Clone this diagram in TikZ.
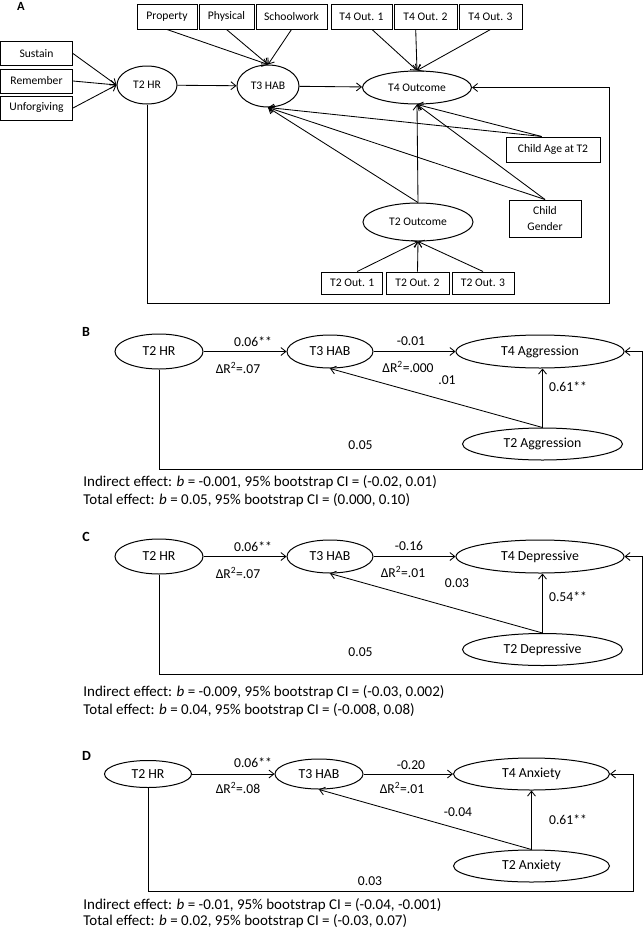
\documentclass[tikz,border=0pt]{standalone}
\usepackage{fontspec}
\setmainfont{Carlito}
\usetikzlibrary{shapes.geometric,arrows.meta}
\begin{document}
\begin{tikzpicture}[x=1pt, y=-1pt, line width=0.85pt,
    >={Straight Barb[length=5pt,width=8pt]},
    lat/.style={ellipse, draw, line width=1pt, inner sep=0pt},
    box/.style={rectangle, draw, line width=1pt, inner sep=0pt, minimum height=24pt},
    fa/.style={font=\fontsize{11.6}{13}\selectfont},
    fb/.style={font=\fontsize{13.8}{16}\selectfont},
    est/.style={inner sep=0pt, font=\fontsize{13.6}{16}\selectfont},
    eff/.style={anchor=west, inner sep=0pt, font=\fontsize{15}{18}\selectfont},
    plab/.style={inner sep=0pt, font=\bfseries\fontsize{14}{16}\selectfont}]
    \useasboundingbox (0,0) rectangle (644,932);
    \node[plab, font=\bfseries\fontsize{12.5}{14}\selectfont] (pA) at (21,6) {A};
    \node[box, fa, minimum width=72pt] (sus) at (36.5,53.5) {Sustain};
    \node[box, fa, minimum width=72pt] (rem) at (36.5,81) {Remember};
    \node[box, fa, minimum width=72pt] (unf) at (36.5,108) {Unforgiving};
    \node[lat, fa, minimum width=60pt, minimum height=38pt] (hr) at (147,85) {T2 HR};
    \node[lat, fa, minimum width=62pt, minimum height=42pt] (hab) at (268,86) {T3 HAB};
    \node[lat, fa, minimum width=109pt, minimum height=33pt] (t4o) at (417,87.5) {T4 Outcome};
    \node[lat, fa, minimum width=110pt, minimum height=38pt] (t2o) at (418,222) {T2 Outcome};
    \node[box, fa, minimum width=60pt, minimum height=25pt] (prp) at (167,16.5) {Property};
    \node[box, fa, minimum width=55pt, minimum height=25pt] (phy) at (226.5,16.5) {Physical};
    \node[box, fa, minimum width=71pt, minimum height=25pt] (sch) at (291.5,16.5) {Schoolwork};
    \node[box, fa, minimum width=61pt, minimum height=25pt] (o1) at (361.5,16.5) {T4 Out. 1};
    \node[box, fa, minimum width=63pt, minimum height=25pt] (o2) at (425.5,16.5) {T4 Out. 2};
    \node[box, fa, minimum width=63pt, minimum height=25pt] (o3) at (490.5,16.5) {T4 Out. 3};
    \node[box, fa, minimum width=94pt, minimum height=25pt] (age) at (553,149.5) {Child Age at T2};
    \node[box, font=\fontsize{11.6}{16.5}\selectfont, minimum width=72pt, minimum height=37pt, align=center] (gen) at (545,218.5) {Child\\Gender};
    \node[box, fa, minimum width=61pt, minimum height=22pt] (p1) at (352.3,283) {T2 Out. 1};
    \node[box, fa, minimum width=63pt, minimum height=22pt] (p2) at (417.5,283) {T2 Out. 2};
    \node[box, fa, minimum width=62pt, minimum height=22pt] (p3) at (483,283) {T2 Out. 3};
    \coordinate (ca) at (609,303);
    \foreach \from/\to in {sus.east/hr.west, rem.east/hr.west, unf.east/hr.west, hr/hab, hab/t4o, prp.south/hab.north, phy.south/hab.north, sch.south/hab.north, o1.-51/t4o.north, o2.-127/t4o.north, o3.south/t4o.north, age.131/hab.south, age.131/t4o.south, gen.north/hab.south, gen.north/t4o.south, t2o.north/hab.south, t2o.north/t4o.south, p1.67/t2o.south, p2.north/t2o.south, p3.north/t2o.south}
        \draw[->] (\from) -- (\to);
    \draw[->] (hr.south) |- (ca) |- (t4o.east);

    \node[plab] (pB) at (86,332) {B};
    \node[lat, fb, minimum width=88pt, minimum height=35pt] (bhr) at (159,351.5) {T2 HR};
    \node[lat, fb, minimum width=86pt, minimum height=33pt] (bhab) at (330,351.5) {T3 HAB};
    \node[lat, fb, minimum width=168pt, minimum height=33pt] (bt4) at (540,351.5) {T4 Aggression};
    \node[lat, fb, minimum width=160pt, minimum height=32pt] (bt2) at (542.5,444) {T2 Aggression};
    \node[est] (b1) at (253,341.7) {0.06**};
    \node[est] (b2) at (238,367.7) {ΔR\textsuperscript{2}=.07};
    \node[est] (b3) at (411,341) {-0.01};
    \node[est] (b4) at (408,366.7) {ΔR\textsuperscript{2}=.000};
    \node[est] (b5) at (447,380) {.01};
    \node[est] (b6) at (568,386.7) {0.61**};
    \node[est] (b7) at (360.5,445) {0.05};
    \coordinate (cb) at (642,469);
    \foreach \from/\to in {bhr/bhab, bhab/bt4, bt2.north/bhab.south}
        \draw[->] (\from) -- (\to);
    \draw[->] (bt2.north) -- (bt2.north |- bt4.south);
    \draw[->] (bhr.south) |- (cb) |- (bt4.east);
    \node[eff] (bi) at (83,482) {Indirect effect: \textit{b} = -0.001, 95\% bootstrap CI = (-0.02, 0.01)};
    \node[eff] (bt) at (83,500) {Total effect: \textit{b} = 0.05, 95\% bootstrap CI = (0.000, 0.10)};

    \node[plab] (pC) at (86,537) {C};
    \node[lat, fb, minimum width=88pt, minimum height=35pt] (chr) at (159,556.5) {T2 HR};
    \node[lat, fb, minimum width=86pt, minimum height=33pt] (chab) at (330,556.5) {T3 HAB};
    \node[lat, fb, minimum width=168pt, minimum height=33pt] (ct4) at (540,556.5) {T4 Depressive};
    \node[lat, fb, minimum width=160pt, minimum height=32pt] (ct2) at (542.5,649.5) {T2 Depressive};
    \node[est] (c1) at (253,546.7) {0.06**};
    \node[est] (c2) at (238,572.7) {ΔR\textsuperscript{2}=.07};
    \node[est] (c3) at (409,546) {-0.16};
    \node[est] (c4) at (403,571.7) {ΔR\textsuperscript{2}=.01};
    \node[est] (c5) at (457,583.3) {0.03};
    \node[est] (c6) at (568,596.7) {0.54**};
    \node[est] (c7) at (360.5,651.7) {0.05};
    \coordinate (cc) at (642,674.3);
    \foreach \from/\to in {chr/chab, chab/ct4, ct2.north/chab.south}
        \draw[->] (\from) -- (\to);
    \draw[->] (ct2.north) -- (ct2.north |- ct4.south);
    \draw[->] (chr.south) |- (cc) |- (ct4.east);
    \node[eff] (ci) at (83,692) {Indirect effect: \textit{b} = -0.009, 95\% bootstrap CI = (-0.03, 0.002)};
    \node[eff] (ct) at (83,710) {Total effect: \textit{b} = 0.04, 95\% bootstrap CI = (-0.008, 0.08)};

    \node[plab] (pD) at (86.5,756) {D};
    \node[lat, fb, minimum width=87pt, minimum height=27pt] (dhr) at (148,774) {T2 HR};
    \node[lat, fb, minimum width=88pt, minimum height=30pt] (dhab) at (319,774) {T3 HAB};
    \node[lat, fb, minimum width=156pt, minimum height=32pt] (dt4) at (531.5,774) {T4 Anxiety};
    \node[lat, fb, minimum width=156pt, minimum height=32pt] (dt2) at (531.5,866) {T2 Anxiety};
    \node[est] (d1) at (253,762.7) {0.06**};
    \node[est] (d2) at (238,788.3) {ΔR\textsuperscript{2}=.08};
    \node[est] (d3) at (411,765) {-0.20};
    \node[est] (d4) at (402,788.3) {ΔR\textsuperscript{2}=.01};
    \node[est] (d5) at (458,811.7) {-0.04};
    \node[est] (d6) at (568,820) {0.61**};
    \node[est] (d7) at (370,881) {0.03};
    \coordinate (cd) at (633,891);
    \foreach \from/\to in {dhr/dhab, dhab/dt4, dt2.north/dhab.south, dt2/dt4}
        \draw[->] (\from) -- (\to);
    \draw[->] (dhr.south) |- (cd) |- (dt4.east);
    \node[eff] (di) at (83,905.7) {Indirect effect: \textit{b} = -0.01, 95\% bootstrap CI = (-0.04, -0.001)};
    \node[eff] (dt) at (83,921.7) {Total effect: \textit{b} = 0.02, 95\% bootstrap CI = (-0.03, 0.07)};
\end{tikzpicture}
\end{document}
